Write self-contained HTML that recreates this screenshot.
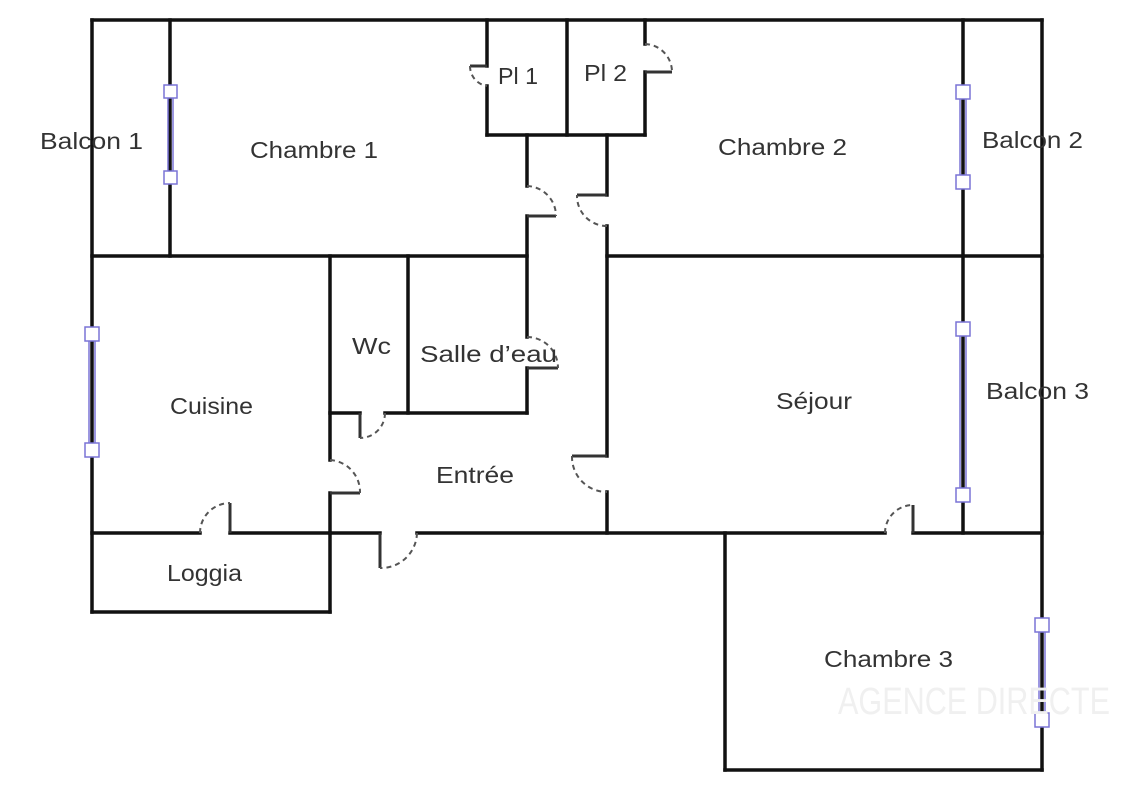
<!DOCTYPE html>
<html><head><meta charset="utf-8"><style>
html,body{margin:0;padding:0;background:#fff;}
svg{display:block;}
text{font-family:"Liberation Sans","DejaVu Sans",sans-serif;font-size:23px;fill:#333;}
</style></head><body>
<svg width="1127" height="801" viewBox="0 0 1127 801" xmlns="http://www.w3.org/2000/svg">
<g stroke="#111" stroke-width="3.5" fill="none" stroke-linecap="square">
<line x1="92" y1="20" x2="1042" y2="20"/>
<line x1="92" y1="20" x2="92" y2="612"/>
<line x1="1042" y1="20" x2="1042" y2="770"/>
<line x1="170" y1="20" x2="170" y2="256"/>
<line x1="963" y1="20" x2="963" y2="533"/>
<line x1="92" y1="256" x2="527" y2="256"/>
<line x1="607" y1="256" x2="1042" y2="256"/>
<line x1="487" y1="20" x2="487" y2="66"/>
<line x1="487" y1="86" x2="487" y2="135"/>
<line x1="567" y1="20" x2="567" y2="135"/>
<line x1="645" y1="20" x2="645" y2="44"/>
<line x1="645" y1="72" x2="645" y2="135"/>
<line x1="487" y1="135" x2="645" y2="135"/>
<line x1="527" y1="135" x2="527" y2="186"/>
<line x1="527" y1="216" x2="527" y2="337"/>
<line x1="527" y1="368" x2="527" y2="413"/>
<line x1="607" y1="135" x2="607" y2="195"/>
<line x1="607" y1="226" x2="607" y2="456"/>
<line x1="607" y1="492" x2="607" y2="533"/>
<line x1="330" y1="256" x2="330" y2="460"/>
<line x1="330" y1="493" x2="330" y2="612"/>
<line x1="408" y1="256" x2="408" y2="413"/>
<line x1="330" y1="413" x2="360" y2="413"/>
<line x1="385" y1="413" x2="527" y2="413"/>
<line x1="92" y1="533" x2="200" y2="533"/>
<line x1="230" y1="533" x2="330" y2="533"/>
<line x1="330" y1="533" x2="380" y2="533"/>
<line x1="417" y1="533" x2="885" y2="533"/>
<line x1="913" y1="533" x2="1042" y2="533"/>
<line x1="92" y1="612" x2="330" y2="612"/>
<line x1="725" y1="533" x2="725" y2="770"/>
<line x1="725" y1="770" x2="1042" y2="770"/>
</g>
<g stroke="#333" stroke-width="3" fill="none">
<line x1="487" y1="66" x2="470" y2="66"/>
<line x1="645" y1="72" x2="672" y2="72"/>
<line x1="527" y1="216" x2="556" y2="216"/>
<line x1="607" y1="195" x2="577" y2="195"/>
<line x1="527" y1="368" x2="558" y2="368"/>
<line x1="360" y1="413" x2="360" y2="438"/>
<line x1="330" y1="493" x2="360" y2="493"/>
<line x1="607" y1="456" x2="572" y2="456"/>
<line x1="380" y1="533" x2="380" y2="568"/>
<line x1="230" y1="533" x2="230" y2="503"/>
<line x1="913" y1="533" x2="913" y2="505"/>
</g>
<g stroke="#555" stroke-width="2" fill="none" stroke-dasharray="5,4">
<path d="M470 66 A20 20 0 0 0 487 86"/>
<path d="M645 44 A28 28 0 0 1 672 72"/>
<path d="M527 186 A30 30 0 0 1 556 216"/>
<path d="M607 226 A30 30 0 0 1 577 195"/>
<path d="M527 337 A31 31 0 0 1 558 368"/>
<path d="M385 413 A25 25 0 0 1 360 438"/>
<path d="M330 460 A32 32 0 0 1 360 493"/>
<path d="M572 456 A35 35 0 0 0 607 492"/>
<path d="M417 533 A36 36 0 0 1 380 568"/>
<path d="M200 533 A30 30 0 0 1 230 503"/>
<path d="M885 533 A28 28 0 0 1 913 505"/>
</g>
<g stroke="#7a74d6" stroke-width="1.5" fill="#fff">
<line x1="168" y1="92" x2="168" y2="178"/><line x1="173" y1="92" x2="173" y2="178"/>
<rect x="164" y="85" width="13" height="13"/><rect x="164" y="171" width="13" height="13"/>
<line x1="960" y1="92" x2="960" y2="183"/><line x1="966" y1="92" x2="966" y2="183"/>
<rect x="956" y="85" width="14" height="14"/><rect x="956" y="175" width="14" height="14"/>
<line x1="960" y1="330" x2="960" y2="495"/><line x1="966" y1="330" x2="966" y2="495"/>
<rect x="956" y="322" width="14" height="14"/><rect x="956" y="488" width="14" height="14"/>
<line x1="89" y1="333" x2="89" y2="450"/><line x1="95" y1="333" x2="95" y2="450"/>
<rect x="85" y="327" width="14" height="14"/><rect x="85" y="443" width="14" height="14"/>
<line x1="1039" y1="625" x2="1039" y2="720"/><line x1="1045" y1="625" x2="1045" y2="720"/>
<rect x="1035" y="618" width="14" height="14"/><rect x="1035" y="713" width="14" height="14"/>
</g>
<g lengthAdjust="spacingAndGlyphs">
<text x="40" y="149" textLength="103" lengthAdjust="spacingAndGlyphs">Balcon 1</text>
<text x="250" y="158" textLength="128" lengthAdjust="spacingAndGlyphs">Chambre 1</text>
<text x="498" y="84" textLength="40" lengthAdjust="spacingAndGlyphs">Pl 1</text>
<text x="584" y="81" textLength="43" lengthAdjust="spacingAndGlyphs">Pl 2</text>
<text x="718" y="155" textLength="129" lengthAdjust="spacingAndGlyphs">Chambre 2</text>
<text x="982" y="148" textLength="101" lengthAdjust="spacingAndGlyphs">Balcon 2</text>
<text x="352" y="354" textLength="39" lengthAdjust="spacingAndGlyphs">Wc</text>
<text x="420" y="362" textLength="137" lengthAdjust="spacingAndGlyphs">Salle d’eau</text>
<text x="170" y="414" textLength="83" lengthAdjust="spacingAndGlyphs">Cuisine</text>
<text x="776" y="409" textLength="76" lengthAdjust="spacingAndGlyphs">Séjour</text>
<text x="986" y="399" textLength="103" lengthAdjust="spacingAndGlyphs">Balcon 3</text>
<text x="436" y="483" textLength="78" lengthAdjust="spacingAndGlyphs">Entrée</text>
<text x="167" y="581" textLength="75" lengthAdjust="spacingAndGlyphs">Loggia</text>
<text x="824" y="667" textLength="129" lengthAdjust="spacingAndGlyphs">Chambre 3</text>
<text x="838" y="714" textLength="272" lengthAdjust="spacingAndGlyphs" style="font-size:38px;fill:#f0f0f0">AGENCE DIRECTE</text>
</g>
</svg>
</body></html>
